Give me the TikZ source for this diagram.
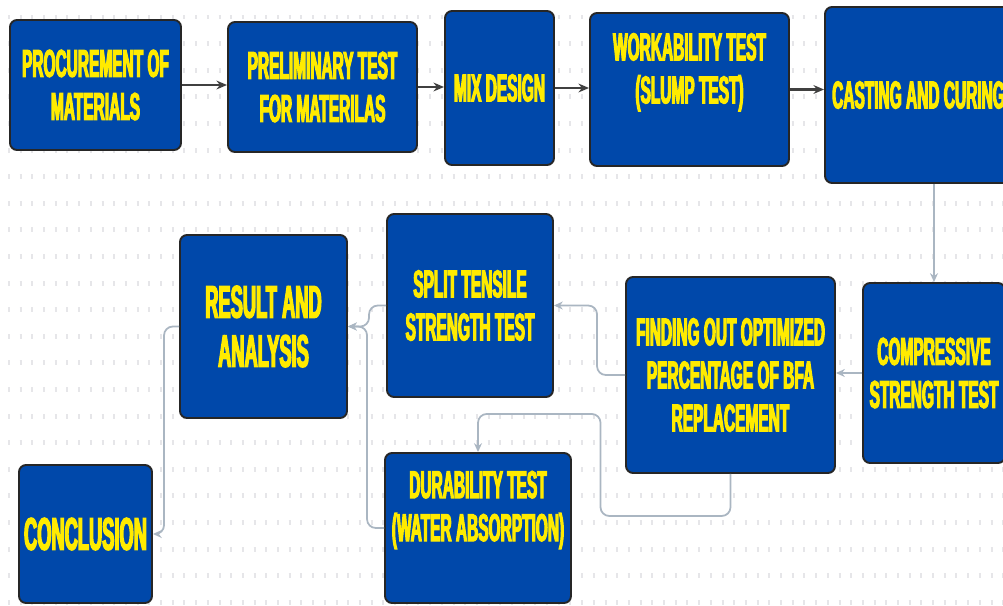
\documentclass[tikz,border=0pt]{standalone}
\usepackage{fontspec}
\newfontfamily\stepfont[FakeStretch=0.40,FakeBold=2.8]{Liberation Sans}
\usetikzlibrary{arrows.meta,calc,positioning}
\definecolor{boxblue}{RGB}{0,72,170}
\definecolor{boxyellow}{RGB}{255,235,0}
\definecolor{linkgray}{RGB}{170,182,194}
\definecolor{dotgray}{RGB}{230,230,233}
\tikzset{
	stepbox/.style={draw=black!85, line width=1.1pt, fill=boxblue, rounded corners=4pt,
		text=boxyellow, align=center, inner sep=2pt,
		font=\stepfont\bfseries\fontsize{22}{24.5}\selectfont},
	bigtext/.style={font=\stepfont\bfseries\fontsize{26}{28}\selectfont},
	sz/.style 2 args={minimum width=#1*0.02cm, minimum height=#2*0.02cm},
	main/.style={draw=black!75, line width=1.2pt, -{Stealth[length=6pt,width=5pt]}},
	link/.style={draw=linkgray, line width=1pt, rounded corners=5pt,
		-{Stealth[length=5pt,width=4.5pt]}},
	dots/.style={draw=dotgray, line width=0.1cm, dash pattern=on 0.04cm off 0.194cm}
}

\begin{document}
\begin{tikzpicture}[x=0.02cm, y=-0.02cm]
   \clip (0,0) rectangle (1003,605);
   \fill[white] (0,0) rectangle (1003,605);
   % dotted canvas
   \foreach \r in {0,...,22}
      \draw[dots] (8,{17+26.6*\r}) -- (1003,{17+26.6*\r});

   % preparation stage
   \node[stepbox, sz={171}{130}] (proc) at (95.5,85) {PROCUREMENT OF\\MATERIALS};
   \node[stepbox, sz={189}{130}] (prelim) at (322.5,87) {PRELIMINARY TEST\\FOR MATERILAS};
   \node[stepbox, sz={109}{154}] (mix) at (499.5,88) {MIX DESIGN};
   \node[stepbox, sz={199}{153}, text depth=0.85cm] (work) at (689.5,89.5) {WORKABILITY TEST\\(SLUMP TEST)};
   \node[stepbox, sz={187}{176}] (cast) at (918.5,95) {CASTING AND CURING};

   % testing stage
   \node[stepbox, sz={142}{180}] (comp) at (934,373) {COMPRESSIVE\\STRENGTH TEST};
   \node[stepbox, sz={209}{196}] (find) at (730.5,375) {FINDING OUT OPTIMIZED\\PERCENTAGE OF BFA\\REPLACEMENT};
   \node[stepbox, sz={166}{183}] (split) at (470,305.5) {SPLIT TENSILE\\STRENGTH TEST};
   \node[stepbox, sz={186}{150}, text depth=0.88cm] (dura) at (478,528) {DURABILITY TEST\\(WATER ABSORPTION)};
   \node[stepbox, bigtext, sz={167}{183}] (result) at (263.5,326.5) {RESULT AND\\ANALYSIS};
   \node[stepbox, bigtext, sz={133}{138}] (concl) at (85.5,534) {CONCLUSION};

   \draw[main] (proc.east) -- (proc.east -| prelim.west);
   \draw[main] (prelim.east) -- (prelim.east -| mix.west);
   \draw[main] (mix.east) -- (mix.east -| work.west);
   \draw[main] (work.east) -- (work.east -| cast.west);

   \draw[link] (comp.north |- cast.south) -- (comp.north);
   \draw[link] (comp.west) -- (comp.west -| find.east);
   \draw[link] (find.west) -- ++(-28,0) |- (split.east);
   \draw[link] (find.south) -- ++(0,42) -- ++(-130,0) -- ++(0,-102) -| (dura.north);
   \draw[link] (split.west) -- ++(-17,0) |- (result.east);
   \draw[link] (dura.west) -- ++(-17,0) |- (result.east);
   \draw[link] (result.west) -- ++(-15,0) |- (concl.east);
\end{tikzpicture}
\end{document}
